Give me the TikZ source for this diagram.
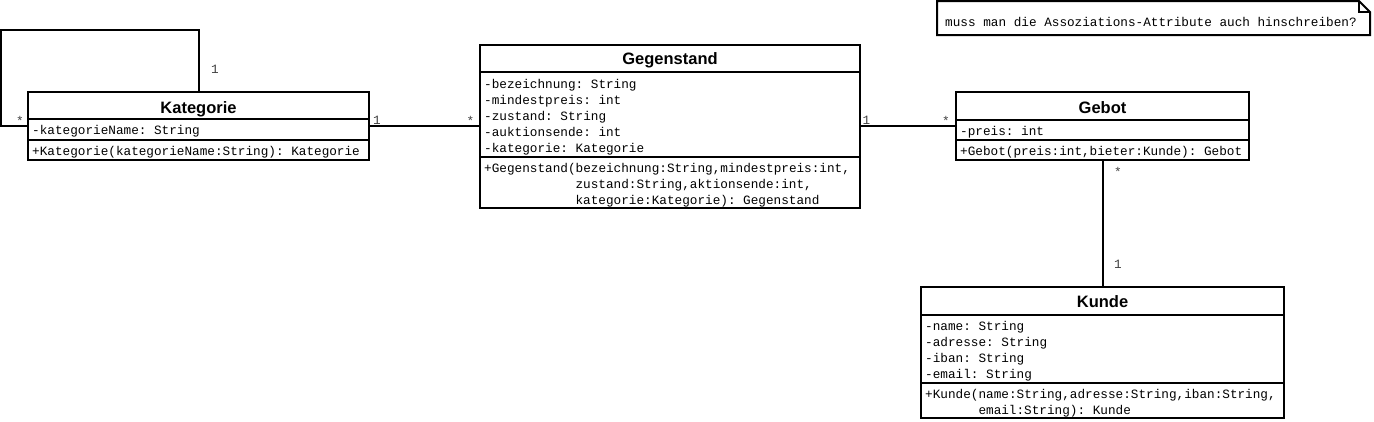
\documentclass[tikz,border=0pt]{standalone}
\usepackage{fontspec}
\setmonofont{Liberation Mono}
\newfontfamily\titlefont{Liberation Sans}
\begin{document}
\begin{tikzpicture}[x=1pt,y=-1pt,
  classbox/.style={draw=black,line width=2pt,fill=white,inner sep=0pt,rectangle},
  divider/.style={line width=2pt},
  assoc/.style={line width=2pt},
  mono/.style={font=\ttfamily\fontsize{12.7}{16}\selectfont,inner sep=0pt,anchor=base west,text=black},
  ctitle/.style={font=\titlefont\bfseries\fontsize{16.5}{20}\selectfont,inner sep=0pt,anchor=base,text=black},
  mult/.style={font=\ttfamily\fontsize{12.7}{16}\selectfont,inner sep=0pt,anchor=base,text=black!75},
  notebox/.style={draw=black,line width=2pt,fill=white,line join=miter}
]
\useasboundingbox (0,0) rectangle (1374,421);

% ---------- Kategorie ----------
\node[classbox,minimum width=341pt,minimum height=68pt] (kat) at (198.5,126) {};
\draw[divider] (28,119) -- (369,119);
\draw[divider] (28,140) -- (369,140);
\node[ctitle] (katT) at (198.5,113.5) {Kategorie};
\node[mono] (katA1) at (32,134.5) {-kategorieName: String};
\node[mono] (katO1) at (32,155) {+Kategorie(kategorieName:String): Kategorie};

% ---------- Gegenstand ----------
\node[classbox,minimum width=380pt,minimum height=163pt] (geg) at (670,126) {};
\draw[divider] (480,72) -- (860,72);
\draw[divider] (480,157) -- (860,157);
\node[ctitle] (gegT) at (670,64.5) {Gegenstand};
\node[mono] (gegA1) at (484,88.5) {-bezeichnung: String};
\node[mono] (gegA2) at (484,104.5) {-mindestpreis: int};
\node[mono] (gegA3) at (484,120.5) {-zustand: String};
\node[mono] (gegA4) at (484,136.5) {-auktionsende: int};
\node[mono] (gegA5) at (484,152.5) {-kategorie: Kategorie};
\node[mono] (gegO1) at (484,172.5) {+Gegenstand(bezeichnung:String,mindestpreis:int,};
\node[mono] (gegO2) at (575.4,188.5) {zustand:String,aktionsende:int,};
\node[mono] (gegO3) at (575.4,204.5) {kategorie:Kategorie): Gegenstand};

% ---------- Gebot ----------
\node[classbox,minimum width=293pt,minimum height=68pt] (geb) at (1102.5,126) {};
\draw[divider] (956,120) -- (1249,120);
\draw[divider] (956,140) -- (1249,140);
\node[ctitle] (gebT) at (1102.5,113.5) {Gebot};
\node[mono] (gebA1) at (960,135) {-preis: int};
\node[mono] (gebO1) at (960,155) {+Gebot(preis:int,bieter:Kunde): Gebot};

% ---------- Kunde ----------
\node[classbox,minimum width=363pt,minimum height=131pt] (kun) at (1102.5,352.5) {};
\draw[divider] (921,315) -- (1284,315);
\draw[divider] (921,383) -- (1284,383);
\node[ctitle] (kunT) at (1102.5,307) {Kunde};
\node[mono] (kunA1) at (925,330) {-name: String};
\node[mono] (kunA2) at (925,346) {-adresse: String};
\node[mono] (kunA3) at (925,362) {-iban: String};
\node[mono] (kunA4) at (925,378) {-email: String};
\node[mono] (kunO1) at (925,398) {+Kunde(name:String,adresse:String,iban:String,};
\node[mono] (kunO2) at (978.3,414) {email:String): Kunde};

% ---------- Note ----------
\draw[notebox] (937,1) -- (1359,1) -- (1370,12) -- (1370,35) -- (937,35) -- cycle;
\draw[line width=1.5pt] (1359,1) -- (1359,12) -- (1370,12);
\node[mono] (note) at (945,26) {muss man die Assoziations-Attribute auch hinschreiben?};

% ---------- Associations ----------
\coordinate (loopTL) at (1,30);
\draw[assoc] (kat.north) |- (loopTL) |- (kat.west);
\draw[assoc] (kat.east) -- (geg.west);
\draw[assoc] (geg.east) -- (geb.west);
\draw[assoc] (geb.south) -- (kun.north);

% ---------- Multiplicities ----------
\node[mult] (m1) at (215,73) {1};
\node[mult] (m2) at (20,125) {*};
\node[mult] (m3) at (377,124) {1};
\node[mult] (m4) at (470.5,125) {*};
\node[mult] (m5) at (866.5,124) {1};
\node[mult] (m6) at (946,125) {*};
\node[mult] (m7) at (1118,176) {*};
\node[mult] (m8) at (1118,268.5) {1};
\end{tikzpicture}
\end{document}
